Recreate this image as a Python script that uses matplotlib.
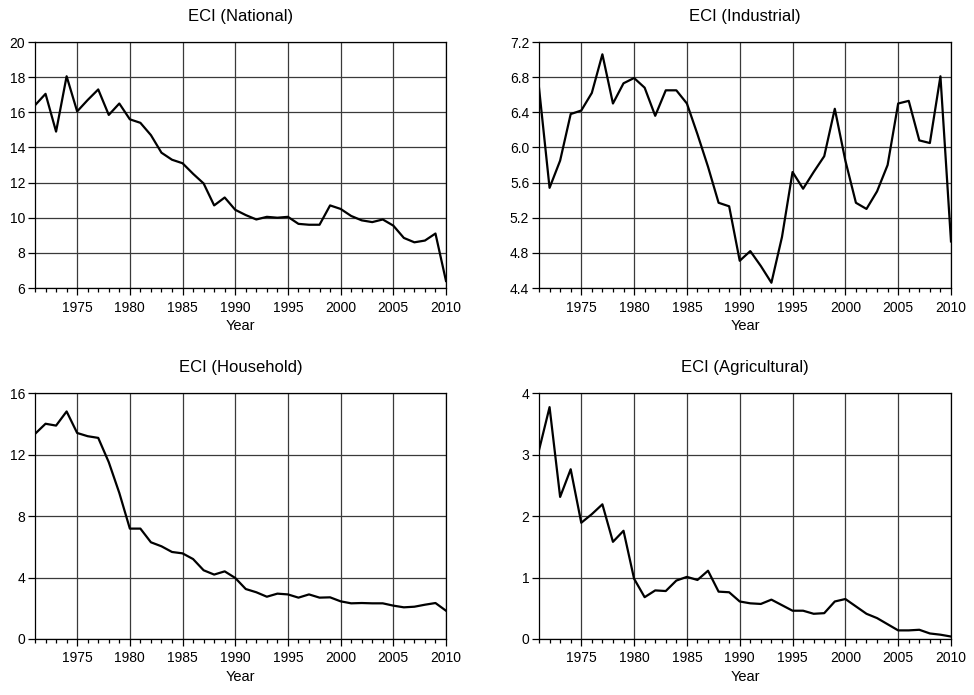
import matplotlib.pyplot as plt
from matplotlib.ticker import MultipleLocator, FixedLocator

plt.rcParams['font.family'] = ['Liberation Sans', 'DejaVu Sans']

years = list(range(1971, 2011))

eci_national = [16.4, 17.05, 14.9, 18.05, 16.05, 16.7, 17.3, 15.85, 16.5, 15.6,
                15.4, 14.7, 13.7, 13.3, 13.1, 12.5, 11.95, 10.7, 11.15, 10.45,
                10.15, 9.9, 10.05, 10.0, 10.05, 9.65, 9.6, 9.6, 10.7, 10.5,
                10.1, 9.85, 9.75, 9.9, 9.55, 8.85, 8.6, 8.7, 9.1, 6.4]

eci_industrial = [6.68, 5.54, 5.85, 6.38, 6.42, 6.62, 7.06, 6.50, 6.73, 6.79,
                  6.68, 6.36, 6.65, 6.65, 6.50, 6.15, 5.78, 5.37, 5.33, 4.71,
                  4.82, 4.65, 4.46, 4.98, 5.72, 5.53, 5.72, 5.90, 6.44, 5.85,
                  5.37, 5.30, 5.50, 5.80, 6.50, 6.53, 6.08, 6.05, 6.81, 4.93]

eci_household = [13.34, 14.0, 13.88, 14.8, 13.4, 13.19, 13.08, 11.5, 9.5, 7.18,
                 7.18, 6.29, 6.03, 5.66, 5.57, 5.2, 4.47, 4.19, 4.4, 3.97,
                 3.25, 3.04, 2.75, 2.95, 2.9, 2.69, 2.9, 2.69, 2.71, 2.45,
                 2.32, 2.34, 2.32, 2.32, 2.17, 2.06, 2.1, 2.23, 2.34, 1.84]

eci_agricultural = [3.07, 3.77, 2.31, 2.76, 1.89, 2.03, 2.19, 1.58, 1.76, 0.98,
                    0.68, 0.79, 0.78, 0.95, 1.01, 0.96, 1.11, 0.77, 0.76, 0.61,
                    0.58, 0.57, 0.64, 0.55, 0.46, 0.46, 0.41, 0.42, 0.61, 0.65,
                    0.53, 0.41, 0.34, 0.24, 0.14, 0.14, 0.15, 0.09, 0.07, 0.04]

panels = [
    ("ECI (National)", eci_national, (6, 20), 2, "{:.0f}"),
    ("ECI (Industrial)", eci_industrial, (4.4, 7.2), 0.4, "{:.1f}"),
    ("ECI (Household)", eci_household, (0, 16), 4, "{:.0f}"),
    ("ECI (Agricultural)", eci_agricultural, (0, 4), 1, "{:.0f}"),
]

W, H = 974, 695
fig = plt.figure(figsize=(W / 100, H / 100), dpi=100)

# axes boxes in pixels: left, top, right, bottom
boxes = [(35, 42, 446, 288), (539, 42, 951, 288),
         (35, 393, 446, 639), (539, 393, 951, 639)]

for (title, vals, ylim, step, fmt), (l, t, r, b) in zip(panels, boxes):
    ax = fig.add_axes([l / W, 1 - b / H, (r - l) / W, (b - t) / H])
    ax.plot(years, vals, color="black", lw=1.6, zorder=3)
    ax.set_xlim(1971, 2010)
    ax.set_ylim(*ylim)
    ax.xaxis.set_major_locator(FixedLocator(range(1975, 2011, 5)))
    ax.xaxis.set_minor_locator(MultipleLocator(1))
    ax.yaxis.set_major_locator(MultipleLocator(step))
    ax.yaxis.set_major_formatter(plt.FuncFormatter(lambda v, p, f=fmt: f.format(v)))
    ax.grid(True, which="major", color="#3a3a3a", lw=0.9)
    ax.tick_params(axis="both", which="major", direction="out", length=5,
                   width=0.9, labelsize=10, colors="black", pad=2)
    ax.tick_params(axis="x", which="minor", direction="out", length=3, width=0.9)
    ax.tick_params(axis="x", which="major", pad=4)
    for s in ax.spines.values():
        s.set_linewidth(0.9)
    ax.set_title(title, fontsize=12, pad=15)
    ax.set_xlabel("Year", fontsize=10.5, labelpad=3)

fig.savefig("out.png", dpi=100)
